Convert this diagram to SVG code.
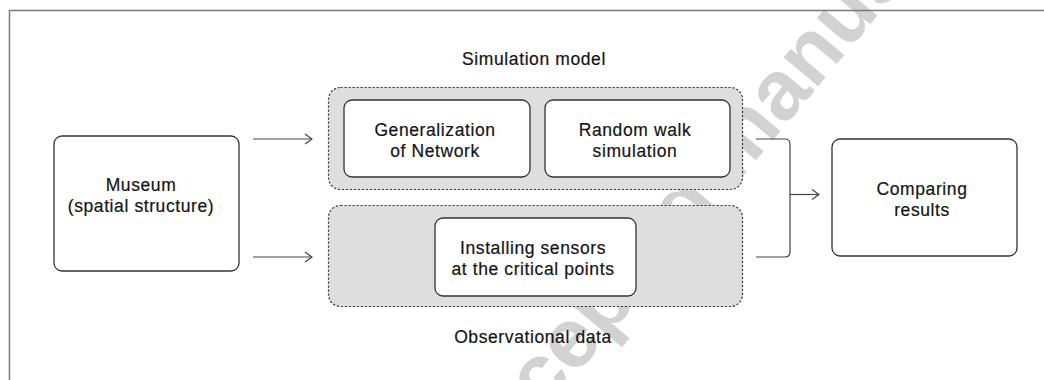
<svg xmlns="http://www.w3.org/2000/svg" width="1044" height="380" viewBox="0 0 1044 380">
<defs>
<style>
.frame{fill:none;stroke:#7a7a7a;stroke-width:1.5}
.box{fill:#ffffff;stroke:#333333;stroke-width:1.3}
.grp{fill:#dedede;stroke:#3a3a3a;stroke-width:1.2;stroke-dasharray:2.2 1.8}
.lbl{font-family:"Liberation Sans",Arial,Helvetica,sans-serif;font-size:17.5px;fill:#141414;stroke:#141414;stroke-width:0.2px;text-anchor:middle;letter-spacing:0.6px}
.edge{fill:none;stroke:#444444;stroke-width:1.2}
.wm{font-family:"Liberation Sans",Arial,sans-serif;font-weight:bold;font-size:85px;fill:#d2d2d2;text-anchor:middle}
</style>
<marker id="arr" viewBox="0 0 10 12" refX="9" refY="6" markerWidth="10" markerHeight="12" markerUnits="userSpaceOnUse" orient="auto">
<path d="M2,1 L9,6 L2,11" fill="none" stroke="#444444" stroke-width="1.2"/>
</marker>
</defs>
<rect width="1044" height="380" fill="#ffffff"/>
<g id="watermark"><text class="wm" transform="translate(752,165) rotate(-50)">Accepted manuscript</text></g>
<path class="frame" d="M9.5,380 V10.5 H1044"/>
<g id="simulation-model">
<rect class="grp" x="328.5" y="87.5" width="414" height="102" rx="12"/>
<text class="lbl" x="534" y="65">Simulation model</text>
</g>
<g id="observational-data">
<rect class="grp" x="328.5" y="205.5" width="414" height="101" rx="12"/>
<text class="lbl" x="533" y="343">Observational data</text>
</g>
<g id="museum">
<rect class="box" x="54" y="136" width="185" height="135" rx="8"/>
<text class="lbl" x="141" y="191">Museum</text>
<text class="lbl" x="141" y="212">(spatial structure)</text>
</g>
<g id="generalization">
<rect class="box" x="344" y="100" width="186" height="77" rx="8"/>
<text class="lbl" x="435" y="136">Generalization</text>
<text class="lbl" x="435" y="157">of Network</text>
</g>
<g id="random-walk">
<rect class="box" x="545" y="100" width="185" height="77" rx="8"/>
<text class="lbl" x="635" y="136">Random walk</text>
<text class="lbl" x="635" y="157">simulation</text>
</g>
<g id="sensors">
<rect class="box" x="435" y="218" width="201" height="78" rx="8"/>
<text class="lbl" x="533" y="254">Installing sensors</text>
<text class="lbl" x="533" y="275">at the critical points</text>
</g>
<g id="comparing">
<rect class="box" x="832" y="139" width="185" height="117" rx="8"/>
<text class="lbl" x="922" y="195">Comparing</text>
<text class="lbl" x="922" y="216">results</text>
</g>
<g id="connectors">
<path class="edge" d="M253,139 H312" marker-end="url(#arr)"/>
<path class="edge" d="M253,257 H312" marker-end="url(#arr)"/>
<path class="edge" d="M756,139 H785 Q790,139 790,144 V252 Q790,257 785,257 H756"/>
<path class="edge" d="M790,194.5 H819" marker-end="url(#arr)"/>
</g>
</svg>
